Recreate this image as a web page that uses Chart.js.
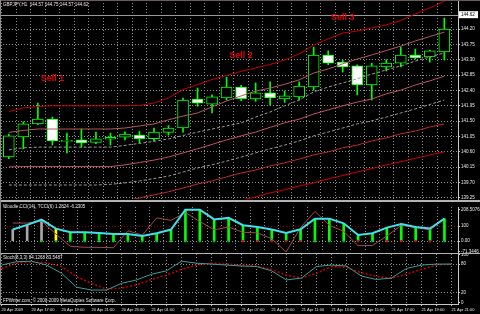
<!DOCTYPE html>
<html>
<head>
<meta charset="utf-8">
<script src="https://cdn.jsdelivr.net/npm/chart.js@4"></script>
<style>
  html, body { margin: 0; padding: 0; background: #000; }
  #wrap { position: relative; width: 480px; height: 314px; overflow: hidden; background: #000; }
  #wrap canvas { position: absolute; left: 0; }
  .sep { position: absolute; left: 0; width: 480px; background: #b4b4b4; }
</style>
</head>
<body>
<div id="wrap">
  <canvas id="priceChart" width="480" height="200" style="top:0"></canvas>
  <canvas id="cciChart" width="480" height="53" style="top:203px"></canvas>
  <canvas id="stochChart" width="480" height="60" style="top:254px"></canvas>
  <div class="sep" style="top:0;height:1px;background:#6a5a5a"></div>
  <div class="sep" style="top:200px;height:2px"></div>
  <div class="sep" style="top:253px;height:1px"></div>
  <div class="sep" style="top:0;width:1px;height:305px;background:#8a8a8a"></div>
</div>
<script>
// hourly bars, 20 Apr 2009 15:00 .. 21 Apr 21:00
const timeLabels = [
  '20 Apr 2009', '20 Apr 16:00', '20 Apr 17:00', '20 Apr 18:00', '20 Apr 19:00', '20 Apr 20:00',
  '20 Apr 21:00', '20 Apr 22:00', '20 Apr 23:00', '21 Apr 00:00', '21 Apr 01:00', '21 Apr 02:00',
  '21 Apr 03:00', '21 Apr 04:00', '21 Apr 05:00', '21 Apr 06:00', '21 Apr 07:00', '21 Apr 08:00',
  '21 Apr 09:00', '21 Apr 10:00', '21 Apr 11:00', '21 Apr 12:00', '21 Apr 13:00', '21 Apr 14:00',
  '21 Apr 15:00', '21 Apr 16:00', '21 Apr 17:00', '21 Apr 18:00', '21 Apr 19:00', '21 Apr 20:00',
  '21 Apr 21:00'
];
const bars = timeLabels.map((_, i) => i);

const open  = [140.45, 141.04, 141.42, 141.56, 140.91, 140.95, 140.88, 140.97, 141.03, 141.09, 140.99, 141.17, 141.30, 142.15, 142.00, 142.18,
               142.50, 142.15, 142.33, 142.15, 142.21, 142.50, 143.44, 143.23, 143.12, 142.56, 143.09, 143.20, 143.44, 143.38, 143.53];
const high  = [141.12, 141.48, 142.03, 141.62, 141.15, 141.27, 141.18, 141.15, 141.19, 141.20, 141.30, 141.37, 142.18, 142.47, 142.27, 142.79,
               142.55, 142.62, 142.65, 142.38, 142.65, 143.67, 143.56, 143.29, 143.15, 143.20, 143.30, 143.67, 143.61, 143.58, 144.52];
const low   = [140.40, 140.69, 141.40, 140.80, 140.57, 140.74, 140.84, 140.80, 140.95, 140.86, 140.92, 141.09, 141.18, 141.94, 141.74, 142.12,
               142.10, 142.08, 141.97, 142.05, 142.12, 142.41, 143.15, 142.94, 142.27, 142.12, 142.97, 143.09, 143.32, 143.23, 143.29];
const close = [141.07, 141.42, 141.56, 140.92, 140.92, 140.86, 140.98, 141.03, 141.12, 140.99, 141.18, 141.30, 142.12, 142.03, 142.21, 142.50,
               142.16, 142.33, 142.18, 142.24, 142.53, 143.44, 143.20, 143.09, 142.56, 143.12, 143.20, 143.44, 143.35, 143.56, 144.20];

// band lines, top to bottom
const band1 = [141.78, 141.89, 141.93, 141.95, 141.95, 141.95, 141.95, 141.95, 141.95, 141.96, 142.03, 142.18, 142.43, 142.57, 142.72, 142.84,
               142.96, 143.06, 143.16, 143.29, 143.47, 143.73, 143.91, 144.08, 144.14, 144.23, 144.32, 144.45, 144.64, 144.82, 145.01];
const band2 = [141.17, 141.23, 141.27, 141.27, 141.27, 141.27, 141.27, 141.27, 141.30, 141.36, 141.42, 141.54, 141.65, 141.74, 141.92, 142.09,
               142.24, 142.38, 142.47, 142.58, 142.71, 142.91, 143.03, 143.18, 143.32, 143.44, 143.57, 143.70, 143.85, 143.98, 144.11];
const band3 = [140.66, 140.72, 140.74, 140.74, 140.74, 140.74, 140.74, 140.74, 140.79, 140.85, 140.91, 140.98, 141.08, 141.18, 141.27, 141.36,
               141.45, 141.62, 141.77, 141.95, 142.12, 142.36, 142.50, 142.62, 142.74, 142.88, 143.00, 143.12, 143.26, 143.38, 143.50];
const band4 = [140.16, 140.17, 140.17, 140.17, 140.17, 140.17, 140.17, 140.17, 140.22, 140.29, 140.36, 140.45, 140.57, 140.69, 140.82, 140.95,
               141.07, 141.18, 141.32, 141.45, 141.56, 141.71, 141.83, 141.95, 142.06, 142.15, 142.30, 142.41, 142.56, 142.68, 142.82];
const band5 = [139.63, 139.63, 139.63, 139.63, 139.63, 139.63, 139.63, 139.65, 139.69, 139.75, 139.82, 139.89, 140.01, 140.13, 140.22, 140.33,
               140.45, 140.57, 140.69, 140.80, 140.92, 141.07, 141.18, 141.30, 141.42, 141.51, 141.62, 141.74, 141.86, 141.99, 142.12];
const band6 = [139.07, 139.07, 139.07, 139.07, 139.07, 139.07, 139.07, 139.07, 139.16, 139.25, 139.34, 139.43, 139.54, 139.66, 139.75, 139.87,
               139.98, 140.07, 140.19, 140.28, 140.39, 140.51, 140.60, 140.72, 140.80, 140.92, 141.01, 141.13, 141.21, 141.33, 141.42];
const band7 = [138.52, 138.52, 138.52, 138.52, 138.52, 138.52, 138.52, 138.52, 138.58, 138.64, 138.69, 138.75, 138.84, 138.93, 139.02, 139.10,
               139.19, 139.28, 139.40, 139.49, 139.60, 139.69, 139.81, 139.91, 140.01, 140.11, 140.22, 140.31, 140.41, 140.51, 140.60];

const priceTicks = [139.25, 139.70, 140.15, 140.60, 141.05, 141.50, 141.95, 142.40, 142.85, 143.30, 143.75, 144.20];
const bidPrice = 144.62;
const sellNotes = [
  { text: 'Sell 1', bar: 3, price: 142.75 },
  { text: 'Sell 2', bar: 16, price: 143.42 },
  { text: 'Sell 3', bar: 23, price: 144.55 }
];

// Woodie CCI panel
const woodieCci = [77, 108, 142, 83, 59, 59, 55, 47, 47, 35, 53, 77, 208.5, 208, 144, 154,
                   106, 94, 77, 55, 79, 149, 149, 118, 41, 53, 90, 114, 94, 84, 149];
const turboCci  = [120, 120, 134, 47, -34, -40, -41, -43, 69, 40, 154, 138, 189, 130, 75, 94,
                   59, 55, 16, -71.3, 90, 197, 105, 65, -30, -28, 35, 105, 90, 75, 149];
const histState = ['n', 'n', 'n', 'y', 'g', 'g', 'g', 'g', 'g', 'g', 'g', 'g', 'g', 'g', 'g', 'g',
                   'g', 'g', 'g', 'g', 'g', 'g', 'g', 'g', 'g', 'g', 'g', 'g', 'g', 'g', 'g'];
const zeroDot   = ['', '', 'g', 'g', 'g', 'g', 'g', 'g', 'g', 'g', 'g', 'g', 'g', 'g', 'g', 'g',
                   'r', 'r', 'r', 'r', 'r', 'g', 'g', 'g', 'r', 'g', 'r', 'r', 'r', 'r', 'g'];
const cciTicks = [208.5076, 100, 0, -71.3446];

// Stochastic panel
const stochMain   = [78, 85, 86, 78, 61, 32, 26, 26, 40, 47, 59, 66, 86, 82, 80, 78,
                     76, 75, 66, 47, 51, 75, 78, 76, 55, 48, 51, 71, 78, 80, 80];
const stochSignal = [71, 82, 85, 83, 75, 54, 40, 28, 30, 37, 48, 57, 69, 78, 82, 80,
                     78, 76, 69, 57, 51, 61, 75, 73, 62, 54, 51, 59, 69, 78, 80];
const stochTicks = [100, 80, 20, 0];

const FONT = 'Liberation Sans';
const GRID = '#8c8c8c';
const AXIS = '#c8c8c8';
const TXT = '#e6e6e6';

function xAxis(showLabels) {
  return {
    type: 'linear', min: -0.1, max: 30.4333,
    afterBuildTicks: s => { s.ticks = bars.map(i => ({ value: i })); },
    afterFit: s => { s.height = showLabels ? 10 : 0; s.paddingLeft = 0; s.paddingRight = 0; },
    grid: { color: GRID, lineWidth: 1, drawTicks: showLabels, tickLength: 2, tickColor: AXIS },
    border: { display: showLabels, color: AXIS, dash: [1, 2] },
    ticks: {
      display: showLabels, autoSkip: false, maxRotation: 0, align: 'start', padding: 1,
      color: TXT, font: { family: FONT, size: 4 },
      callback: v => (v % 2 === 0 ? timeLabels[v] : '')
    }
  };
}

function yAxis(min, max, tickVals, fmt, gridColor) {
  return {
    position: 'right', min: min, max: max,
    afterBuildTicks: s => { s.ticks = tickVals.map(v => ({ value: v })); },
    afterFit: s => { s.width = 22; s.paddingTop = 0; s.paddingBottom = 0; },
    grid: { color: gridColor, lineWidth: 1, drawTicks: true, tickLength: 2, tickColor: AXIS },
    border: { display: true, color: AXIS, dash: [1, 2] },
    ticks: { padding: 1, color: TXT, font: { family: FONT, size: 4.5 }, callback: fmt }
  };
}

function panelText(lines) {
  return {
    id: 'panelText',
    afterDraw(chart) {
      const ctx = chart.ctx;
      ctx.save();
      ctx.fillStyle = TXT;
      ctx.textBaseline = 'middle';
      ctx.textAlign = 'left';
      lines.forEach(l => {
        ctx.font = l.size + 'px "' + FONT + '"';
        ctx.fillText(l.text, l.x, l.y);
      });
      ctx.restore();
    }
  };
}

const series = (arr) => bars.map(i => ({ x: i, y: arr[i] }));
const baseOpts = (scales, padding) => ({
  responsive: false, animation: false, events: [],
  layout: { padding: padding },
  plugins: { legend: { display: false }, tooltip: { enabled: false } },
  scales: scales
});

function bandLine(arr, color, dash) {
  return { type: 'line', data: series(arr), borderColor: color, borderWidth: 1, borderDash: dash || [],
           pointRadius: 0, tension: 0, order: 0 };
}

// ---------- price panel ----------
const pricePlugin = {
  id: 'priceExtras',
  beforeDatasetsDraw(chart) {
    const { ctx, chartArea, scales } = chart;
    const y = Math.round(scales.y.getPixelForValue(bidPrice)) + 0.5;
    ctx.save();
    ctx.strokeStyle = '#9a9a9a';
    ctx.lineWidth = 1;
    ctx.beginPath();
    ctx.moveTo(chartArea.left, y);
    ctx.lineTo(chartArea.right, y);
    ctx.stroke();
    ctx.restore();
  },
  afterDraw(chart) {
    const { ctx, chartArea, scales } = chart;
    ctx.save();
    ctx.font = 'bold 9px "' + FONT + '"';
    ctx.fillStyle = '#e80000';
    ctx.textAlign = 'center';
    ctx.textBaseline = 'middle';
    sellNotes.forEach(n => {
      ctx.fillText(n.text, scales.x.getPixelForValue(n.bar), scales.y.getPixelForValue(n.price));
    });
    const y = scales.y.getPixelForValue(bidPrice);
    ctx.fillStyle = '#ffffff';
    ctx.fillRect(chartArea.right + 1, y - 3.5, 19, 7);
    ctx.fillStyle = '#000000';
    ctx.font = '4.5px "' + FONT + '"';
    ctx.textAlign = 'left';
    ctx.fillText(bidPrice.toFixed(2), chartArea.right + 3, y);
    ctx.restore();
  }
};

new Chart(document.getElementById('priceChart'), {
  type: 'bar',
  data: {
    datasets: [
      bandLine(band1, '#c40000'),
      bandLine(band2, '#b05a5a'),
      bandLine(band3, '#9a9a9a', [3, 2]),
      bandLine(band4, '#c05262'),
      bandLine(band5, '#9a9a9a', [3, 2]),
      bandLine(band6, '#c02a2a'),
      bandLine(band7, '#d00000'),
      {
        data: bars.map(i => ({ x: i, y: [open[i], close[i]] })),
        backgroundColor: bars.map(i => (close[i] >= open[i] ? '#000000' : '#ffffff')),
        borderColor: '#00ff00', borderWidth: 1, borderSkipped: false,
        barThickness: 11, minBarLength: 1, grouped: false, order: 2
      },
      {
        data: bars.map(i => ({ x: i, y: [low[i], high[i]] })),
        backgroundColor: '#00ff00', barThickness: 1, grouped: false, order: 3
      }
    ]
  },
  options: baseOpts({
    x: xAxis(false),
    y: yAxis(139.22, 145.05, priceTicks, v => v.toFixed(2), GRID)
  }, { bottom: 1 }),
  plugins: [pricePlugin, panelText([{ text: 'GBPJPY,H1  144.57 144.75 144.57 144.62', x: 3, y: 5, size: 4.5 }])]
});

// ---------- CCI panel ----------
const histColors = { n: '#a8a8a8', y: '#ffff00', g: '#00ff00' };
const dotColors = { g: '#00d000', r: '#e00000' };

new Chart(document.getElementById('cciChart'), {
  type: 'bar',
  data: {
    datasets: [
      { type: 'line', data: series(woodieCci), borderColor: '#3fe0ec', borderWidth: 2, pointRadius: 0, tension: 0, order: 0 },
      { type: 'line', data: series(turboCci), borderColor: '#a04a4a', borderWidth: 1, pointRadius: 0, tension: 0, order: 1 },
      {
        type: 'line', showLine: false, order: 2,
        data: bars.map(i => ({ x: i, y: zeroDot[i] ? 0 : null })),
        pointStyle: 'rect', pointRadius: 1.5, pointBorderWidth: 0,
        pointBackgroundColor: bars.map(i => dotColors[zeroDot[i]] || 'transparent')
      },
      {
        data: series(woodieCci), grouped: false, barThickness: 2, order: 3,
        backgroundColor: bars.map(i => histColors[histState[i]])
      }
    ]
  },
  options: baseOpts({
    x: xAxis(false),
    y: yAxis(-71.35, 226, cciTicks,
      v => (v === 0 ? '0.00' : Number.isInteger(v) ? String(v) : v.toFixed(4)),
      c => (c.tick.value === 100 ? '#8a0000' : c.tick.value === 0 ? GRID : 'transparent'))
  }, { bottom: 3 }),
  plugins: [panelText([{ text: 'Woodie CCI(14), TCCI(6) 1.2824 -6.2305', x: 3, y: 4, size: 4.5 }])]
});

// ---------- Stochastic panel ----------
new Chart(document.getElementById('stochChart'), {
  type: 'line',
  data: {
    datasets: [
      { data: series(stochMain), borderColor: '#3f9a9a', borderWidth: 1, pointRadius: 0, tension: 0 },
      { data: series(stochSignal), borderColor: '#c80000', borderWidth: 1.5, borderDash: [2, 2], pointRadius: 0, tension: 0 }
    ]
  },
  options: baseOpts({
    x: xAxis(true),
    y: yAxis(-3, 101, stochTicks, v => String(v),
      c => (c.tick.value === 80 || c.tick.value === 20 ? GRID : 'transparent'))
  }, { bottom: 0 }),
  plugins: [panelText([
    { text: 'Stoch(8,3,3) 84.1268 83.5487', x: 3, y: 4, size: 4.5 },
    { text: 'FPWriter.com, \u00a9 2000-2009 MetaQuotes Software Corp.', x: 3, y: 47, size: 4.5 }
  ])]
});
</script>
</body>
</html>
